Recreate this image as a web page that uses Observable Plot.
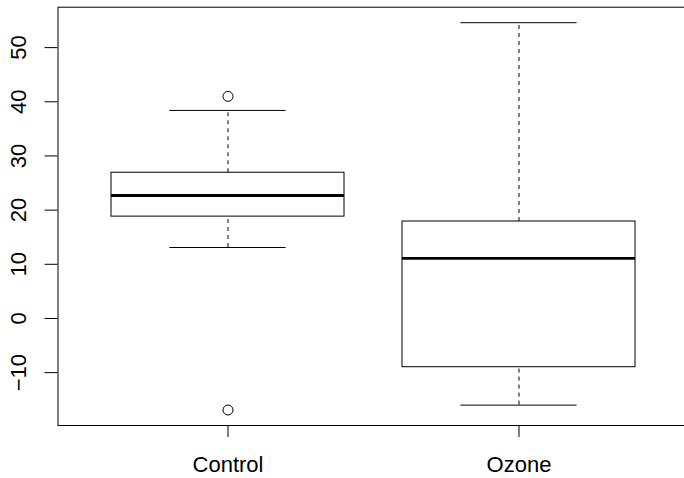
<!DOCTYPE html>
<html>
<head>
<meta charset="utf-8">
<script src="https://cdn.jsdelivr.net/npm/d3@7"></script>
<script src="https://cdn.jsdelivr.net/npm/@observablehq/plot@0.6"></script>
<style>
  html, body { margin: 0; padding: 0; background: white; overflow: hidden; }
  #chart svg { display: block; }
</style>
</head>
<body>
<div id="chart"></div>
<script>
// Data
const groups = ["Control", "Ozone"];
const lowerWhisker = [13.1, -16.0];
const q1 = [18.8, -9.0];
const median = [22.7, 11.1];
const q3 = [26.9, 17.9];
const upperWhisker = [38.4, 54.6];
const outlierGroup = ["Control", "Control"];
const outlierValue = [41.0, -16.9];
const yTicks = [-10, 0, 10, 20, 30, 40, 50];

const boxes = groups.map((g, i) => ({
  group: g, lo: lowerWhisker[i], q1: q1[i], med: median[i], q3: q3[i], hi: upperWhisker[i]
}));
const outliers = outlierGroup.map((g, i) => ({group: g, value: outlierValue[i]}));

// R-style 4% range extension
const allVals = [...lowerWhisker, ...upperWhisker, ...outlierValue];
const ymin = d3.min(allVals), ymax = d3.max(allVals);
const ext = (ymax - ymin) * 0.04;

const font = "'Liberation Sans', Arial, Helvetica, sans-serif";
const FS = 22;
const W = 684, H = 478;
const plot = Plot.plot({
  width: W,
  height: H,
  marginLeft: 57.5,
  marginRight: -4,
  marginTop: 6.7,
  marginBottom: 53,
  style: {fontFamily: font, fontSize: FS + "px", color: "black", background: "white"},
  x: {type: "band", domain: groups, paddingInner: 0.2, paddingOuter: 0.18, align: 0.5},
  y: {domain: [ymin - ext, ymax + ext]},
  marks: [
    Plot.frame({stroke: "black", strokeWidth: 1}),
    // whiskers (dashed)
    Plot.ruleX(boxes, {x: "group", y1: "q3", y2: "hi", stroke: "black", strokeDasharray: "4,4", strokeWidth: 1}),
    Plot.ruleX(boxes, {x: "group", y1: "lo", y2: "q1", stroke: "black", strokeDasharray: "4,4", strokeWidth: 1}),
    // whisker caps
    Plot.tickY(boxes, {x: "group", y: "hi", stroke: "black", insetLeft: 58.4, insetRight: 58.4, strokeWidth: 1}),
    Plot.tickY(boxes, {x: "group", y: "lo", stroke: "black", insetLeft: 58.4, insetRight: 58.4, strokeWidth: 1}),
    // boxes
    Plot.barY(boxes, {x: "group", y1: "q1", y2: "q3", fill: "white", stroke: "black", strokeWidth: 1}),
    // medians
    Plot.tickY(boxes, {x: "group", y: "med", stroke: "black", strokeWidth: 2.8}),
    // outliers
    Plot.dot(outliers, {x: "group", y: "value", r: 5, stroke: "black", fill: "none", strokeWidth: 1}),
    // axes
    Plot.axisY(yTicks, {tickSize: 13, tickFormat: () => "", stroke: "black"}),
    Plot.text(yTicks, {y: d => d, text: d => (d < 0 ? "\u2212" + Math.abs(d) : String(d)), frameAnchor: "left", dx: -39, rotate: -90, lineAnchor: "middle", textAnchor: "middle", fill: "black", fontSize: FS}),
    Plot.axisX({tickSize: 12, tickPadding: 19, stroke: "black", fill: "black", fontSize: FS, label: null})
  ]
});
document.getElementById("chart").appendChild(plot);
</script>
</body>
</html>
